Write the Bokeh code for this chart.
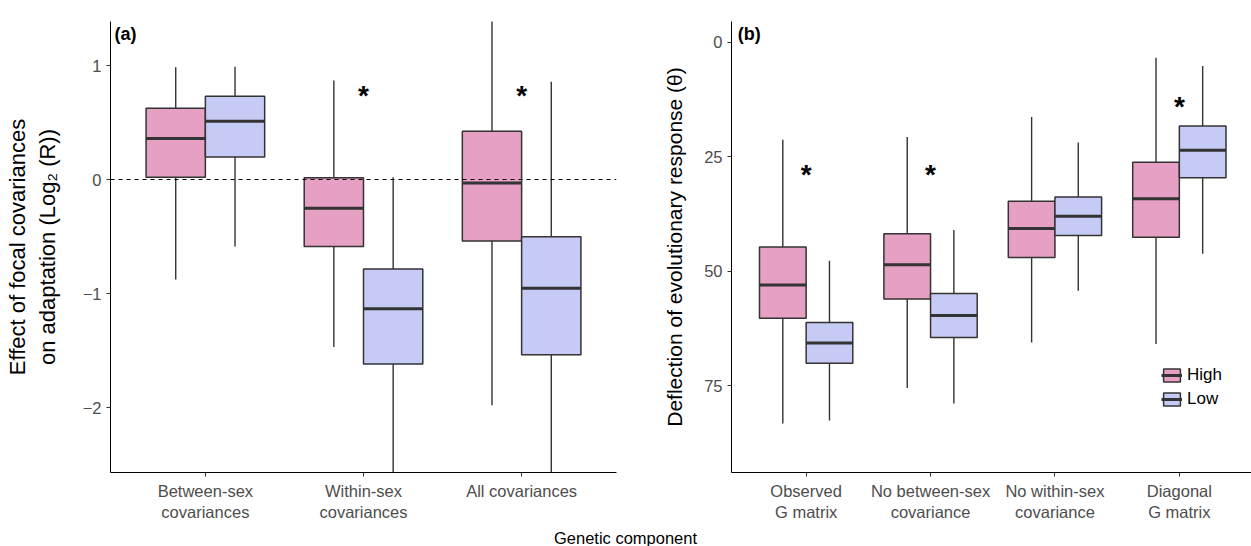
from bokeh.plotting import figure
from bokeh.models import (Range1d, FixedTicker, Span, Label, Legend, LegendItem, Div,
                          ColumnDataSource)
from bokeh.layouts import row, column
from bokeh.embed import file_html
from bokeh.resources import INLINE
from bokeh.core.properties import value

# ---------------- data: panel (a) ----------------
a_cats = ["Between-sex\ncovariances", "Within-sex\ncovariances", "All covariances"]
a_high_lower = [-0.878, -1.47, -1.98]
a_high_q1 = [0.02, -0.588, -0.54]
a_high_med = [0.36, -0.253, -0.03]
a_high_q3 = [0.625, 0.015, 0.424]
a_high_upper = [0.985, 0.869, 1.47]
a_low_lower = [-0.588, -2.8, -2.8]
a_low_q1 = [0.198, -1.619, -1.537]
a_low_med = [0.51, -1.134, -0.954]
a_low_q3 = [0.73, -0.784, -0.503]
a_low_upper = [0.99, 0.02, 0.857]
a_star_cat = [2, 3]
a_star_y = [0.76, 0.76]
a_ticks = [-2, -1, 0, 1]

# ---------------- data: panel (b) ----------------
b_cats = ["Observed\nG matrix", "No between-sex\ncovariance",
          "No within-sex\ncovariance", "Diagonal\nG matrix"]
b_high_lower = [83.3, 75.5, 65.6, 65.9]
b_high_q1 = [60.3, 56.1, 47.0, 42.6]
b_high_med = [53.0, 48.6, 40.7, 34.2]
b_high_q3 = [44.7, 41.8, 34.7, 26.2]
b_high_upper = [21.3, 20.7, 16.3, 3.4]
b_low_lower = [82.6, 78.9, 54.3, 46.2]
b_low_q1 = [70.1, 64.5, 42.2, 29.6]
b_low_med = [65.7, 59.7, 38.0, 23.6]
b_low_q3 = [61.2, 54.9, 33.8, 18.3]
b_low_upper = [47.7, 41.0, 21.9, 5.2]
b_star_cat = [1, 2, 4]
b_star_y = [28.3, 28.3, 13.4]
b_ticks = [0, 25, 50, 75]

groups = ["High", "Low"]
fills = {"High": "#E6A0C4", "Low": "#C6CBF5"}
OUT = "#333333"
FONT = "Liberation Sans"
DODGE = 0.1875
BOXW = 0.375


def style(p, ticks, cats, overrides, title_size):
    p.outline_line_color = None
    p.grid.visible = False
    p.background_fill_color = "white"
    for ax in (p.xaxis[0], p.yaxis[0]):
        ax.axis_line_color = "black"
        ax.axis_line_width = 1
        ax.major_tick_line_color = "#333333"
        ax.major_tick_out = 4
        ax.major_tick_in = 0
        ax.minor_tick_line_color = None
        ax.major_label_text_font = FONT
        ax.major_label_text_font_size = "16.5px"
        ax.major_label_text_color = "#4D4D4D"
        ax.axis_label_text_font = FONT
        ax.axis_label_text_font_style = "normal"
        ax.axis_label_text_font_size = title_size
        ax.axis_label_text_color = "black"
    p.xaxis[0].ticker = FixedTicker(ticks=list(range(1, len(cats) + 1)))
    p.xaxis[0].major_label_overrides = {i + 1: c for i, c in enumerate(cats)}
    p.xaxis[0].major_label_standoff = 5
    p.yaxis[0].ticker = FixedTicker(ticks=ticks)
    p.yaxis[0].major_label_overrides = overrides


def boxes(p, n, data):
    rends = {}
    for g, sign in (("High", -1), ("Low", 1)):
        lower, q1, med, q3, upper = data[g]
        x = [i + 1 + sign * DODGE for i in range(n)]
        src = ColumnDataSource(dict(x=x, left=[v - BOXW / 2 for v in x],
                                    right=[v + BOXW / 2 for v in x],
                                    lower=lower, q1=q1, med=med, q3=q3, upper=upper))
        p.segment(x0="x", y0="lower", x1="x", y1="upper", source=src,
                  line_color=OUT, line_width=1.4)
        q = p.quad(left="left", right="right", bottom="q1", top="q3", source=src,
                   fill_color=fills[g], line_color=OUT, line_width=1.5)
        m = p.segment(x0="left", y0="med", x1="right", y1="med", source=src,
                      line_color=OUT, line_width=3)
        rends[g] = (q, m)
    return rends


def stars(p, cat, ys):
    p.text(x=cat, y=ys, text=["*"] * len(cat), text_font=value(FONT),
           text_font_size="28px", text_font_style="bold", text_color="black",
           text_align="center", text_baseline="middle", y_offset=3)


# ---------------- panel (a) ----------------
pa = figure(width=620, height=524, output_backend="svg", toolbar_location=None,
            x_range=Range1d(0.4, 3.6), y_range=Range1d(-2.57, 1.386),
            min_border_left=110, min_border_right=4, min_border_top=21,
            min_border_bottom=52)
style(pa, a_ticks, a_cats, {-2: "\u22122", -1: "\u22121", 0: "0", 1: "1"}, "22px")
pa.yaxis[0].axis_label = "Effect of focal covariances\non adaptation (Log\u2082 (R))"
pa.yaxis[0].axis_label_standoff = 20
pa.add_layout(Span(location=0, dimension="width", line_color="black",
                   line_dash="4 4", line_width=1.2))
boxes(pa, 3, {"High": (a_high_lower, a_high_q1, a_high_med, a_high_q3, a_high_upper),
              "Low": (a_low_lower, a_low_q1, a_low_med, a_low_q3, a_low_upper)})
stars(pa, a_star_cat, a_star_y)
pa.add_layout(Label(x=0.425, y=1.36, text="(a)", text_font=FONT, text_font_size="18px",
                    text_font_style="bold", text_baseline="top", text_color="black"))

# ---------------- panel (b) ----------------
pb = figure(width=631, height=524, output_backend="svg", toolbar_location=None,
            x_range=Range1d(0.4, 4.58), y_range=Range1d(93.98, -4.54),
            min_border_left=111, min_border_right=0, min_border_top=21,
            min_border_bottom=52)
style(pb, b_ticks, b_cats, {}, "21px")
pb.yaxis[0].axis_label = "Deflection of evolutionary response (\u03b8)"
pb.yaxis[0].axis_label_standoff = 15
rb = boxes(pb, 4, {"High": (b_high_lower, b_high_q1, b_high_med, b_high_q3, b_high_upper),
                   "Low": (b_low_lower, b_low_q1, b_low_med, b_low_q3, b_low_upper)})
stars(pb, b_star_cat, b_star_y)
pb.add_layout(Label(x=0.45, y=-3.9, text="(b)", text_font=FONT, text_font_size="18px",
                    text_font_style="bold", text_baseline="top", text_color="black"))
leg = Legend(items=[LegendItem(label=g, renderers=list(rb[g])) for g in groups],
             location=(430, 63), background_fill_alpha=0, border_line_color=None,
             label_text_font=FONT, label_text_font_size="17px", label_text_color="black",
             glyph_width=21, glyph_height=16, spacing=4, padding=0, margin=0,
             label_standoff=5)
pb.add_layout(leg)

title = Div(text="Genetic component", width=1251, height=19, margin=(3, 0, 0, 0),
            styles={"font-family": FONT, "font-size": "16.5px", "color": "black",
                    "text-align": "center"})

layout = column(row(pa, pb), title)
open("out.html", "w").write(file_html(layout, INLINE))
